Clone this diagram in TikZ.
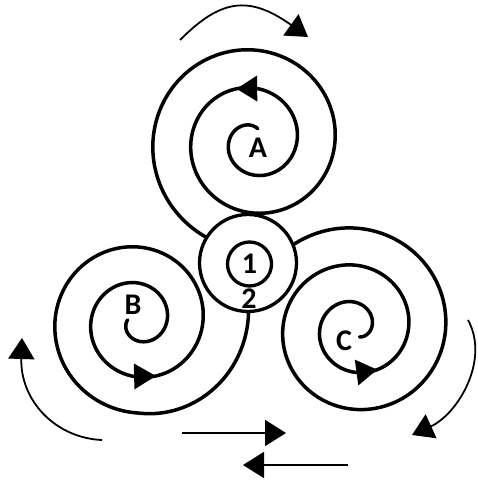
\documentclass[tikz,border=0pt]{standalone}
\usepackage{fontspec}
\setmainfont{Carlito}
\usetikzlibrary{arrows.meta,calc}
\begin{document}
\begin{tikzpicture}[x=1pt,y=1pt,
  spiral/.style={line width=3.5pt, line cap=round, line join=round},
  ring/.style={circle, draw, line width=3.3pt, fill=white, inner sep=0pt},
  thinarrow/.style={line width=1.8pt, -{Triangle[length=21pt,width=26pt]}},
  lbl/.style={font=\bfseries\fontsize{30}{30}\selectfont, inner sep=0pt},
  head/.style={fill=black}]
\useasboundingbox (0,0) rectangle (478,481);
% spiral A
\draw[spiral] plot[domain=-289:612, samples=450, variable=\t]
  ({253.5+(43.5+0.1056*\t)*cos(\t)}, {340+(43.5+0.1056*\t)*sin(\t)});
% spiral B
\draw[spiral] plot[domain=-186:735, samples=450, variable=\t]
  ({138+(29+0.1*\t+0.1*max(0,\t-630))*cos(\t)}, {160+(29+0.1*\t+0.1*max(0,\t-630))*sin(\t)});
% spiral C
\draw[spiral] plot[domain=-63:855, samples=450, variable=\t]
  ({355+(16.5+0.103*\t)*cos(\t)}, {153+(16.5+0.103*\t)*sin(\t)});
% arrowheads on the spirals
\coordinate (At) at ({253.5+(43.5+0.1056*108)*cos(108)}, {340+(43.5+0.1056*108)*sin(108)});
\coordinate (Ab) at ({253.5+(43.5+0.1056*86)*cos(86)}, {340+(43.5+0.1056*86)*sin(86)});
\fill[head] (At) -- ($(Ab)!13pt!90:(At)$) -- ($(Ab)!13pt!-90:(At)$) -- cycle;
\coordinate (Bt) at ({138+(29+0.1*288)*cos(288)}, {160+(29+0.1*288)*sin(288)});
\coordinate (Bb) at ({138+(29+0.1*266)*cos(266)}, {160+(29+0.1*266)*sin(266)});
\fill[head] (Bt) -- ($(Bb)!13pt!90:(Bt)$) -- ($(Bb)!13pt!-90:(Bt)$) -- cycle;
\coordinate (Ct) at ({355+(16.5+0.103*298)*cos(298)}, {153+(16.5+0.103*298)*sin(298)});
\coordinate (Cb) at ({355+(16.5+0.103*272)*cos(272)}, {153+(16.5+0.103*272)*sin(272)});
\fill[head] (Ct) -- ($(Cb)!13pt!90:(Ct)$) -- ($(Cb)!13pt!-90:(Ct)$) -- cycle;
% hub
\node[ring, minimum size=97pt] (hub) at (248,218) {};
\node[ring, minimum size=44pt] (core) at (249.5,217) {};
\node[lbl] (one) at (249.5,217) {1};
\node[lbl] (two) at (249,182) {2};
% letters
\node[lbl] (la) at (258,333) {A};
\node[lbl] (lb) at (133,176) {B};
\node[lbl] (lc) at (344,140) {C};
% outer arrows
\coordinate (t0) at (180,441); \coordinate (t1) at (308,444);
\draw[thinarrow] (t0) .. controls (220,481) and (248,486.8) .. (t1);
\coordinate (l0) at (102,41); \coordinate (l1) at (22,143);
\draw[thinarrow] (l0) .. controls (55,43) and (20,81) .. (l1);
\coordinate (r0) at (468,161); \coordinate (r1) at (412,46);
\draw[thinarrow] (r0) .. controls (490,121) and (458,67) .. (r1);
\coordinate (b0) at (182,48); \coordinate (b1) at (286,48);
\draw[thinarrow] (b0) -- (b1);
\coordinate (c0) at (348,16); \coordinate (c1) at (243,16);
\draw[thinarrow] (c0) -- (c1);
\end{tikzpicture}
\end{document}
